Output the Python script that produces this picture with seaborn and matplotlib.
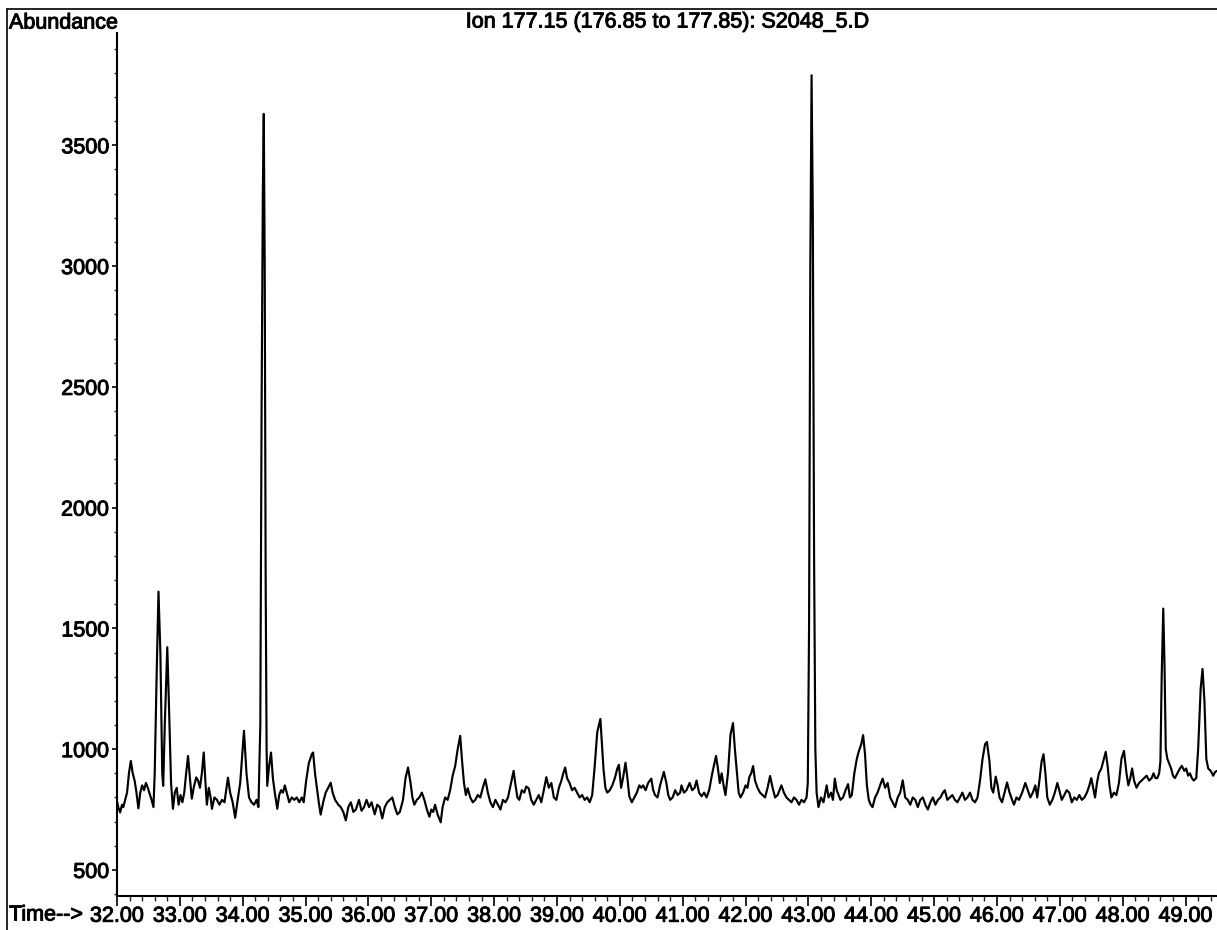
import matplotlib
matplotlib.use("Agg")
import matplotlib.pyplot as plt
import matplotlib.patheffects as pe
import seaborn as sns
import pandas as pd
from matplotlib.ticker import FixedLocator, MultipleLocator, FuncFormatter
from matplotlib.lines import Line2D

# Extracted ion chromatogram, m/z 177.15 (176.85 to 177.85), sample S2048_5.D
time_min = [
    32.00, 32.02, 32.05, 32.08, 32.10, 32.13, 32.16, 32.19, 32.22, 32.25,
    32.28, 32.31, 32.34, 32.37, 32.40, 32.43, 32.46, 32.49, 32.52, 32.55,
    32.58, 32.60, 32.63, 32.66, 32.69, 32.72, 32.735, 32.76, 32.80, 32.83,
    32.86, 32.89, 32.92, 32.95, 32.98, 33.01, 33.04, 33.07, 33.10, 33.13,
    33.16, 33.19, 33.22, 33.26, 33.29, 33.32, 33.35, 33.38, 33.41, 33.43,
    33.46, 33.49, 33.51, 33.55, 33.59, 33.63, 33.67, 33.71, 33.765, 33.80,
    33.84, 33.88, 33.92, 33.96, 34.02, 34.06, 34.10, 34.14, 34.18, 34.22,
    34.25, 34.28, 34.30, 34.32, 34.335, 34.35, 34.365, 34.38, 34.39, 34.42,
    34.45, 34.48, 34.51, 34.55, 34.58, 34.61, 34.64, 34.67, 34.70, 34.74,
    34.78, 34.82, 34.86, 34.90, 34.94, 34.97, 35.01, 35.05, 35.10, 35.12,
    35.15, 35.18, 35.21, 35.24, 35.28, 35.32, 35.36, 35.40, 35.43, 35.47,
    35.52, 35.56, 35.60, 35.64, 35.68, 35.72, 35.76, 35.80, 35.85, 35.89,
    35.93, 35.97, 36.01, 36.05, 36.10, 36.14, 36.18, 36.22, 36.26, 36.30,
    36.34, 36.38, 36.42, 36.46, 36.50, 36.55, 36.59, 36.63, 36.67, 36.70,
    36.73, 36.77, 36.81, 36.85, 36.89, 36.93, 36.97, 37.00, 37.03, 37.06,
    37.10, 37.15, 37.18, 37.22, 37.26, 37.30, 37.34, 37.38, 37.42, 37.46,
    37.49, 37.52, 37.55, 37.58, 37.62, 37.66, 37.70, 37.74, 37.78, 37.82,
    37.86, 37.90, 37.94, 37.98, 38.02, 38.06, 38.10, 38.14, 38.18, 38.22,
    38.27, 38.31, 38.34, 38.37, 38.40, 38.44, 38.48, 38.51, 38.55, 38.59,
    38.63, 38.67, 38.71, 38.75, 38.79, 38.83, 38.87, 38.91, 38.95, 38.99,
    39.03, 39.07, 39.10, 39.13, 39.16, 39.20, 39.24, 39.28, 39.32, 39.36,
    39.40, 39.44, 39.48, 39.52, 39.56, 39.60, 39.64, 39.69, 39.72, 39.74,
    39.77, 39.80, 39.84, 39.88, 39.92, 39.96, 39.985, 40.02, 40.05, 40.09,
    40.12, 40.15, 40.19, 40.23, 40.27, 40.31, 40.34, 40.37, 40.41, 40.45,
    40.50, 40.53, 40.56, 40.60, 40.64, 40.70, 40.74, 40.77, 40.80, 40.84,
    40.88, 40.92, 40.96, 40.98, 41.02, 41.06, 41.11, 41.15, 41.19, 41.22,
    41.26, 41.30, 41.34, 41.38, 41.42, 41.47, 41.53, 41.56, 41.59, 41.62,
    41.65, 41.68, 41.72, 41.76, 41.80, 41.83, 41.86, 41.89, 41.92, 41.96,
    42.00, 42.03, 42.06, 42.09, 42.12, 42.15, 42.19, 42.23, 42.27, 42.31,
    42.35, 42.39, 42.43, 42.47, 42.51, 42.54, 42.57, 42.61, 42.65, 42.69,
    42.73, 42.77, 42.81, 42.85, 42.89, 42.93, 42.97, 42.99, 43.01, 43.03,
    43.05, 43.07, 43.09, 43.11, 43.13, 43.16, 43.20, 43.24, 43.29, 43.32,
    43.36, 43.39, 43.42, 43.45, 43.48, 43.51, 43.55, 43.59, 43.63, 43.66,
    43.69, 43.73, 43.77, 43.80, 43.84, 43.87, 43.90, 43.93, 43.96, 43.99,
    44.02, 44.06, 44.10, 44.14, 44.18, 44.22, 44.26, 44.30, 44.34, 44.38,
    44.42, 44.46, 44.50, 44.54, 44.58, 44.62, 44.66, 44.70, 44.74, 44.78,
    44.82, 44.86, 44.90, 44.94, 44.98, 45.02, 45.06, 45.10, 45.14, 45.17,
    45.21, 45.25, 45.29, 45.33, 45.37, 45.41, 45.45, 45.49, 45.53, 45.57,
    45.61, 45.65, 45.69, 45.73, 45.77, 45.81, 45.84, 45.88, 45.91, 45.94,
    45.98, 46.01, 46.04, 46.08, 46.12, 46.16, 46.20, 46.24, 46.27, 46.31,
    46.35, 46.40, 46.45, 46.49, 46.53, 46.57, 46.61, 46.64, 46.67, 46.71,
    46.74, 46.77, 46.80, 46.84, 46.88, 46.92, 46.96, 46.99, 47.03, 47.07,
    47.11, 47.15, 47.19, 47.23, 47.27, 47.31, 47.35, 47.39, 47.43, 47.47,
    47.50, 47.53, 47.56, 47.59, 47.62, 47.66, 47.70, 47.73, 47.76, 47.79,
    47.82, 47.86, 47.90, 47.94, 47.98, 48.02, 48.06, 48.09, 48.12, 48.15,
    48.18, 48.22, 48.26, 48.30, 48.34, 48.38, 48.42, 48.46, 48.49, 48.52,
    48.55, 48.58, 48.60, 48.62, 48.645, 48.665, 48.685, 48.71, 48.74, 48.77,
    48.80, 48.83, 48.87, 48.91, 48.94, 48.98, 49.01, 49.04, 49.07, 49.10,
    49.13, 49.17, 49.20, 49.24, 49.27, 49.30, 49.33, 49.36, 49.40, 49.44,
    49.47, 49.50,
]

abundance = [
    785, 760, 738, 770, 760, 790, 820, 900, 951, 900,
    870, 820, 755, 820, 850, 830, 860, 840, 815, 790,
    760, 900, 1300, 1652, 1400, 900, 848, 1100, 1422, 1150,
    860, 753, 820, 840, 770, 810, 780, 820, 900, 972,
    880, 795, 840, 883, 870, 840, 900, 986, 850, 770,
    840, 800, 753, 800, 790, 770, 790, 780, 882, 820,
    780, 716, 790, 860, 1076, 900, 800, 780, 770, 790,
    760, 1100, 2400, 3300, 3630, 3000, 1700, 1000, 848, 930,
    986, 880, 820, 753, 810, 830, 820, 850, 820, 780,
    800, 790, 800, 780, 800, 780, 870, 940, 980, 986,
    900, 840, 780, 729, 780, 820, 840, 861, 820, 790,
    770, 760, 740, 705, 760, 780, 740, 750, 790, 745,
    760, 790, 760, 780, 730, 770, 760, 713, 760, 780,
    790, 800, 760, 730, 740, 790, 880, 924, 860, 800,
    770, 790, 800, 820, 790, 750, 720, 750, 740, 770,
    730, 697, 760, 800, 790, 830, 890, 930, 1000, 1055,
    950, 860, 810, 838, 800, 780, 790, 810, 800, 840,
    875, 820, 780, 760, 790, 770, 750, 790, 780, 800,
    860, 910, 850, 800, 790, 830, 820, 845, 838, 790,
    770, 790, 810, 780, 830, 884, 840, 860, 800, 790,
    840, 870, 900, 924, 880, 860, 830, 840, 820, 800,
    810, 790, 800, 780, 810, 930, 1070, 1125, 1000, 916,
    840, 820, 830, 850, 880, 920, 935, 840, 880, 944,
    880, 805, 780, 800, 820, 850, 840, 850, 830, 860,
    878, 830, 810, 800, 850, 906, 860, 810, 790, 800,
    830, 810, 820, 850, 820, 830, 860, 830, 840, 870,
    820, 805, 820, 800, 830, 900, 972, 920, 860, 900,
    850, 810, 900, 1060, 1108, 1000, 910, 820, 800, 820,
    850, 840, 885, 900, 930, 870, 840, 820, 810, 800,
    840, 889, 840, 800, 810, 830, 850, 820, 800, 790,
    780, 800, 790, 770, 790, 780, 800, 860, 1500, 3000,
    3790, 3200, 1800, 1000, 820, 760, 800, 780, 850, 800,
    820, 790, 878, 830, 810, 790, 800, 830, 855, 800,
    810, 900, 960, 990, 1020, 1058, 980, 850, 790, 770,
    760, 800, 820, 850, 878, 840, 860, 800, 780, 760,
    800, 820, 871, 800, 790, 770, 800, 790, 760, 790,
    800, 770, 750, 780, 800, 770, 790, 800, 820, 830,
    790, 800, 810, 790, 780, 800, 820, 790, 800, 820,
    790, 780, 800, 870, 960, 1020, 1030, 950, 840, 820,
    886, 850, 800, 780, 820, 862, 820, 790, 770, 800,
    790, 820, 860, 830, 800, 820, 850, 800, 860, 950,
    979, 900, 800, 770, 790, 820, 860, 830, 790, 810,
    830, 820, 780, 800, 790, 810, 790, 800, 820, 850,
    880, 840, 800, 860, 900, 920, 960, 989, 930, 850,
    800, 820, 810, 860, 960, 993, 900, 850, 880, 920,
    870, 840, 860, 870, 880, 890, 870, 880, 900, 880,
    880, 900, 950, 1300, 1582, 1350, 1000, 960, 940, 920,
    890, 880, 900, 920, 931, 910, 920, 890, 900, 880,
    870, 880, 1000, 1250, 1332, 1200, 960, 920, 910, 890,
    906, 910,
]

x_major = list(range(32, 50))
y_major = [500, 1000, 1500, 2000, 2500, 3000, 3500]
title_text = "Ion 177.15 (176.85 to 177.85): S2048_5.D"

W, H = 1217, 930

sns.set_theme(style="ticks")
plt.rcParams["font.family"] = ["Liberation Sans", "DejaVu Sans"]
FS = 15.5
ink = [pe.withStroke(linewidth=0.7, foreground="black")]

fig = plt.figure(figsize=(W / 100, H / 100), dpi=100, facecolor="white")
ax = fig.add_axes([117 / W, 34 / H, 1100 / W, 863 / H])
ax.set_facecolor("white")

df = pd.DataFrame({"time": time_min, "abundance": abundance})
sns.lineplot(data=df, x="time", y="abundance", ax=ax, color="black",
             linewidth=1.55, sort=False, estimator=None)

ax.set_xlim(32.0, 49.5)
ax.set_ylim(392, 3965)
ax.set_xlabel("")
ax.set_ylabel("")

ax.xaxis.set_major_locator(FixedLocator(x_major))
ax.xaxis.set_minor_locator(MultipleLocator(0.2))
ax.xaxis.set_major_formatter(FuncFormatter(lambda v, p: f"{v:.2f}"))
ax.yaxis.set_major_locator(FixedLocator(y_major))
ax.yaxis.set_minor_locator(MultipleLocator(100))

ax.tick_params(axis="x", which="major", length=7, width=1.2, pad=0,
               labelsize=FS, colors="black", direction="out")
ax.tick_params(axis="x", which="minor", length=3.5, width=1.0, direction="out")
ax.tick_params(axis="y", which="major", length=3.5, width=1.2, pad=2,
               labelsize=FS, colors="black", direction="out")
ax.tick_params(axis="y", which="minor", length=2, width=1.0, direction="out")

for lab in ax.get_xticklabels() + ax.get_yticklabels():
    lab.set_path_effects(ink)

for side in ("top", "right"):
    ax.spines[side].set_visible(False)
for side in ("left", "bottom"):
    ax.spines[side].set_color("black")
    ax.spines[side].set_linewidth(1.5)

fig.text(9 / W, 1 - 23 / H, "Abundance", ha="left", va="center",
         fontsize=FS, color="black", path_effects=ink)
fig.text(9 / W, 1 - 915 / H, "Time-->", ha="left", va="center",
         fontsize=FS, color="black", path_effects=ink)
fig.text(667 / W, 1 - 22 / H, title_text, ha="center", va="center",
         fontsize=FS, color="black", path_effects=ink)

# outer frame of the printout
fig.add_artist(Line2D([7 / W, 7 / W], [0, 1 - 9 / H], color="black",
                      linewidth=1.2, transform=fig.transFigure))
fig.add_artist(Line2D([7 / W, 1], [1 - 9 / H, 1 - 9 / H], color="black",
                      linewidth=1.2, transform=fig.transFigure))

fig.savefig("out.png", dpi=100, facecolor="white")
